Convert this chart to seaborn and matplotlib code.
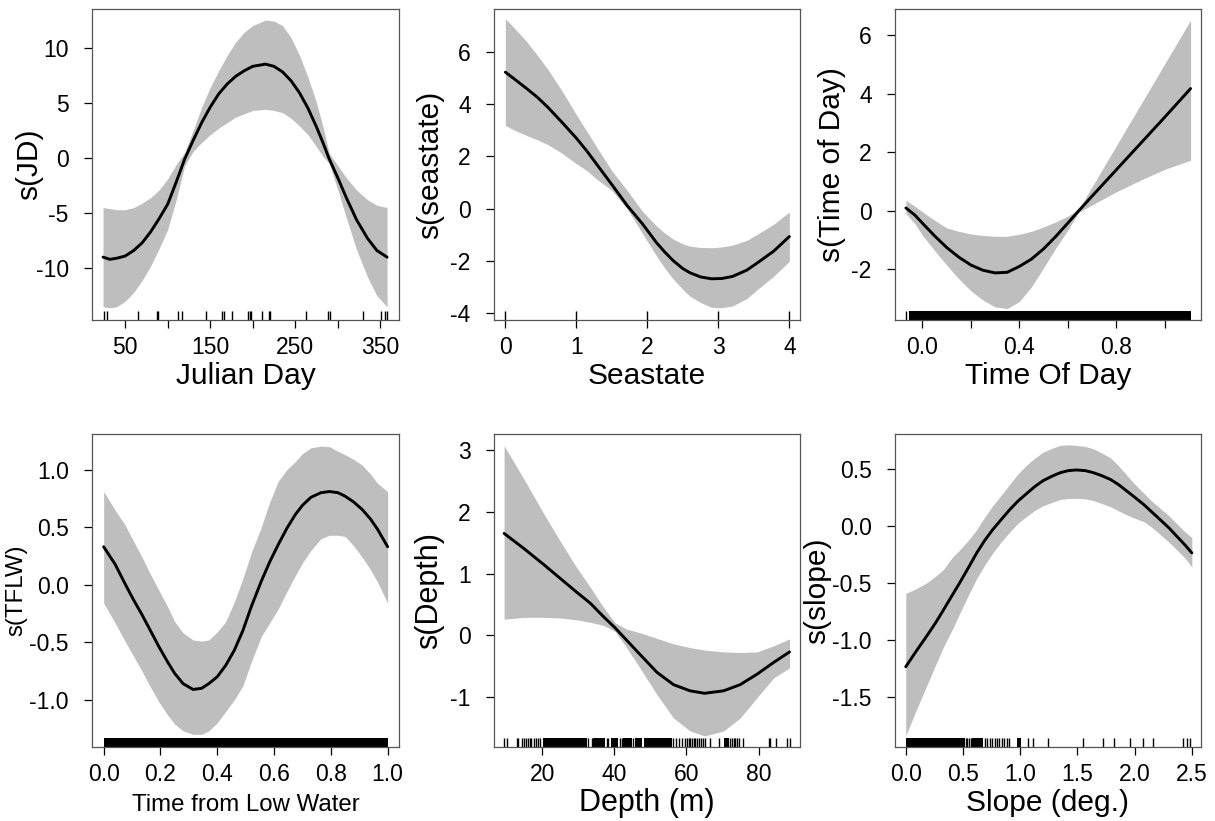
import matplotlib
matplotlib.use('Agg')
import matplotlib.pyplot as plt
import seaborn as sns

# dados (ajustes GAM: curva, limites superior e inferior)
jd_x = [24, 32, 40, 50, 60, 70, 80, 90, 100, 110, 120, 130, 140, 150, 160, 170, 180, 190, 200, 215,
        225, 235, 245, 255, 265, 275, 283, 290, 300, 310, 322, 335, 346, 358]
jd_fit = [-9.0, -9.2, -9.1, -8.9, -8.4, -7.7, -6.7, -5.5, -4.2, -2.2, -0.1, 1.6, 3.2, 4.6, 5.8, 6.7, 7.4,
          7.9, 8.3, 8.5, 8.3, 7.8, 7.0, 5.9, 4.5, 2.8, 1.3, -0.1, -1.8, -3.6, -5.6, -7.3, -8.4, -9.0]
jd_upper = [-4.5, -4.6, -4.7, -4.7, -4.5, -4.1, -3.6, -2.9, -1.9, -0.6, 0.5, 2.5, 4.6, 6.4, 7.9, 9.3, 10.5,
            11.4, 12.0, 12.5, 12.4, 12.0, 10.9, 9.3, 7.3, 5.0, 2.7, 0.4, -0.7, -1.8, -2.9, -3.8, -4.3, -4.5]
jd_lower = [-13.5, -13.6, -13.5, -13.0, -12.2, -11.1, -9.8, -8.2, -6.5, -3.8, -0.7, 0.6, 1.4, 2.1, 2.7, 3.2,
            3.7, 4.0, 4.3, 4.4, 4.3, 4.1, 3.6, 2.9, 2.1, 1.0, 0.1, -0.5, -2.9, -5.4, -8.3, -10.8, -12.5, -13.5]
jd_rug = [24.6, 28.8, 64.6, 87.3, 89.0, 112.0, 116.7, 144.6, 163.8, 166.0, 175.4, 194.3, 196.6, 198.0,
          210.7, 219.0, 220.0, 262.6, 288.5, 290.8, 329.3, 350.8, 355.5, 357.5]

sea_x = [0, 0.15, 0.3, 0.45, 0.6, 0.8, 1.0, 1.15, 1.3, 1.5, 1.72, 1.93, 2.13, 2.25, 2.37, 2.5, 2.6, 2.75,
         2.9, 3.05, 3.2, 3.4, 3.55, 3.78, 4.0]
sea_fit = [5.23, 4.92, 4.6, 4.27, 3.88, 3.3, 2.7, 2.2, 1.65, 0.92, 0.1, -0.58, -1.31, -1.68, -2.01, -2.3,
           -2.46, -2.62, -2.69, -2.68, -2.6, -2.36, -2.08, -1.63, -1.07]
sea_upper = [7.28, 6.85, 6.4, 5.88, 5.33, 4.5, 3.6, 2.95, 2.3, 1.45, 0.68, -0.1, -0.67, -0.95, -1.18, -1.35,
             -1.44, -1.49, -1.5, -1.47, -1.4, -1.22, -0.98, -0.6, -0.13]
sea_lower = [3.18, 2.98, 2.8, 2.64, 2.45, 2.12, 1.72, 1.45, 1.1, 0.7, -0.03, -0.95, -1.82, -2.3, -2.72, -3.1,
             -3.36, -3.6, -3.78, -3.8, -3.73, -3.45, -3.1, -2.59, -2.02]
sea_rug = [0, 1, 2, 3, 4]

tod_x = [-0.068, -0.03, 0.0, 0.05, 0.1, 0.15, 0.2, 0.25, 0.3, 0.35, 0.4, 0.45, 0.5, 0.55, 0.6, 0.645,
         0.7, 0.8, 0.9, 1.0, 1.107]
tod_fit = [0.1, -0.15, -0.42, -0.85, -1.25, -1.58, -1.85, -2.03, -2.12, -2.1, -1.9, -1.65, -1.3, -0.88,
           -0.42, 0.0, 0.5, 1.4, 2.3, 3.2, 4.18]
tod_upper = [0.36, 0.15, -0.03, -0.32, -0.58, -0.7, -0.79, -0.84, -0.87, -0.87, -0.8, -0.7, -0.55, -0.38,
             -0.18, 0.05, 0.82, 2.22, 3.62, 5.02, 6.52]
tod_lower = [-0.09, -0.45, -0.83, -1.35, -1.85, -2.32, -2.73, -3.05, -3.28, -3.34, -3.1, -2.6, -1.95,
             -1.28, -0.66, -0.05, 0.2, 0.65, 1.05, 1.42, 1.73]
tod_rug = [-0.068]
tod_rug_spans = [(-0.055, 1.107)]

tflw_x = [0.0, 0.04, 0.075, 0.105, 0.135, 0.165, 0.195, 0.225, 0.25, 0.28, 0.315, 0.345, 0.37, 0.4, 0.43,
          0.46, 0.49, 0.52, 0.555, 0.585, 0.615, 0.645, 0.675, 0.7, 0.73, 0.765, 0.795, 0.825, 0.85, 0.88,
          0.91, 0.94, 0.965, 1.0]
tflw_fit = [0.33, 0.18, 0.01, -0.13, -0.26, -0.40, -0.54, -0.67, -0.77, -0.86, -0.91, -0.90, -0.86, -0.80,
            -0.70, -0.57, -0.40, -0.19, 0.03, 0.20, 0.35, 0.49, 0.61, 0.69, 0.76, 0.80, 0.81, 0.80, 0.77,
            0.72, 0.655, 0.57, 0.48, 0.33]
tflw_upper = [0.81, 0.65, 0.52, 0.38, 0.24, 0.09, -0.05, -0.19, -0.32, -0.42, -0.48, -0.49, -0.48, -0.41,
              -0.32, -0.15, 0.05, 0.28, 0.5, 0.72, 0.9, 1.0, 1.07, 1.14, 1.19, 1.205, 1.2, 1.16, 1.13,
              1.09, 1.04, 0.96, 0.88, 0.81]
tflw_lower = [-0.16, -0.33, -0.49, -0.62, -0.75, -0.89, -1.02, -1.13, -1.21, -1.27, -1.30, -1.30, -1.27,
              -1.20, -1.10, -1.00, -0.88, -0.67, -0.45, -0.33, -0.21, -0.06, 0.08, 0.19, 0.30, 0.40, 0.43,
              0.43, 0.42, 0.34, 0.24, 0.13, 0.02, -0.16]
tflw_rug_spans = [(0.0, 1.0)]

depth_x = [9.4, 15, 20.3, 25, 29.5, 33.3, 37, 40.2, 43.4, 47.1, 51.8, 56.4, 61, 65, 70.3, 74.9, 79.6,
           84.2, 88.6]
depth_fit = [1.65, 1.4, 1.15, 0.92, 0.7, 0.52, 0.3, 0.12, -0.08, -0.31, -0.6, -0.8, -0.9, -0.94, -0.9,
             -0.8, -0.63, -0.44, -0.27]
depth_upper = [3.07, 2.52, 1.98, 1.52, 1.1, 0.78, 0.45, 0.2, 0.1, 0.04, -0.05, -0.14, -0.2, -0.24, -0.27,
               -0.28, -0.27, -0.17, -0.06]
depth_lower = [0.26, 0.29, 0.29, 0.28, 0.25, 0.21, 0.16, 0.06, -0.2, -0.53, -0.96, -1.34, -1.55, -1.63,
               -1.55, -1.34, -1.01, -0.69, -0.53]
depth_rug = [9.4, 10.1, 12.9, 13.3, 14.3, 15.0, 15.6, 16.1, 16.6, 17.0, 17.7, 18.3, 18.9, 19.4, 32.8, 33.7,
             37.9, 38.3, 41.6, 42.05, 45.3, 56.4, 57.1, 57.8, 58.7, 59.6, 60.1, 60.6, 61.0, 61.5, 62.0, 62.5,
             63.0, 63.5, 64.0, 64.6, 65.2, 66.4, 68.9, 72.1, 72.6, 73.1, 73.5, 74.0, 74.5, 75.8, 82.8, 83.3,
             84.9, 87.9, 88.6]
depth_rug_spans = [(20.3, 32.3), (34.2, 37.4), (39.0, 41.1), (42.5, 44.8), (45.8, 47.6), (48.1, 55.9),
                   (70.3, 71.7)]

slope_x = [0, 0.09, 0.18, 0.26, 0.33, 0.41, 0.47, 0.55, 0.62, 0.69, 0.76, 0.84, 0.91, 0.98, 1.06, 1.13,
           1.2, 1.28, 1.35, 1.42, 1.49, 1.57, 1.64, 1.71, 1.79, 1.86, 1.93, 2.0, 2.08, 2.15, 2.22, 2.3,
           2.37, 2.44, 2.5]
slope_fit = [-1.235, -1.1, -0.97, -0.85, -0.735, -0.6, -0.5, -0.36, -0.235, -0.125, -0.03, 0.065, 0.147,
             0.22, 0.29, 0.35, 0.4, 0.44, 0.47, 0.488, 0.494, 0.488, 0.47, 0.445, 0.41, 0.365, 0.31, 0.255,
             0.19, 0.125, 0.06, -0.015, -0.09, -0.165, -0.235]
slope_upper = [-0.59, -0.55, -0.5, -0.44, -0.38, -0.27, -0.21, -0.12, -0.03, 0.08, 0.18, 0.28, 0.37, 0.46,
               0.54, 0.6, 0.65, 0.685, 0.71, 0.715, 0.71, 0.7, 0.68, 0.645, 0.6, 0.53, 0.45, 0.37, 0.29,
               0.22, 0.16, 0.09, 0.02, -0.05, -0.1]
slope_lower = [-1.84, -1.62, -1.41, -1.22, -1.06, -0.9, -0.77, -0.6, -0.46, -0.34, -0.235, -0.13, -0.05,
               0.025, 0.09, 0.14, 0.18, 0.21, 0.235, 0.243, 0.245, 0.24, 0.225, 0.2, 0.17, 0.135, 0.1,
               0.07, 0.04, -0.01, -0.07, -0.14, -0.21, -0.28, -0.36]
slope_rug = [0.525, 0.537, 0.551, 0.572, 0.691, 0.712, 0.735, 0.758, 0.779, 0.799, 0.817, 0.837, 0.861, 0.881,
             0.901, 1.071, 1.114, 1.246, 1.546, 1.721, 1.823, 1.96, 2.077, 2.159, 2.427, 2.456, 2.485]
slope_rug_spans = [(0.0, 0.516), (0.583, 0.677), (0.968, 1.003)]

sns.set_style('ticks')
plt.rcParams['font.family'] = ['Liberation Sans', 'DejaVu Sans']

fig = plt.figure(figsize=(12.15, 8.21), dpi=100)

W, H = 1215, 821
# posição das caixas em pixels: esquerda, topo, direita, base
caixas = [(92, 9, 399, 320), (494, 9, 800, 320), (895, 9, 1201, 320),
          (92, 434, 399, 747), (494, 434, 800, 747), (895, 434, 1201, 747)]

paineis = [
    dict(x=jd_x, fit=jd_fit, up=jd_upper, lo=jd_lower, rug=jd_rug, spans=[],
         xlim=(11, 372), ylim=(-14.7, 13.5), xticks=[50, 100, 150, 200, 250, 300, 350],
         xlabels=['50', '', '150', '', '250', '', '350'], yticks=[-10, -5, 0, 5, 10],
         yticklabels=['-10', '-5', '0', '5', '10'], xlab='Julian Day', ylab='s(JD)', fs=21.5, ylpos=63),
    dict(x=sea_x, fit=sea_fit, up=sea_upper, lo=sea_lower, rug=sea_rug, spans=[],
         xlim=(-0.16, 4.15), ylim=(-4.27, 7.65), xticks=[0, 1, 2, 3, 4],
         xlabels=['0', '1', '2', '3', '4'], yticks=[-4, -2, 0, 2, 4, 6],
         yticklabels=['-4', '-2', '0', '2', '4', '6'], xlab='Seastate', ylab='s(seastate)', fs=21.5, ylpos=64),
    dict(x=tod_x, fit=tod_fit, up=tod_upper, lo=tod_lower, rug=tod_rug, spans=tod_rug_spans,
         xlim=(-0.113, 1.15), ylim=(-3.73, 6.9), xticks=[0.0, 0.2, 0.4, 0.6, 0.8, 1.0],
         xlabels=['0.0', '', '0.4', '', '0.8', ''], yticks=[-2, 0, 2, 4, 6],
         yticklabels=['-2', '0', '2', '4', '6'], xlab='Time Of Day', ylab='s(Time of Day)', fs=21.5, ylpos=63),
    dict(x=tflw_x, fit=tflw_fit, up=tflw_upper, lo=tflw_lower, rug=[], spans=tflw_rug_spans,
         xlim=(-0.041, 1.04), ylim=(-1.41, 1.31), xticks=[0.0, 0.2, 0.4, 0.6, 0.8, 1.0],
         xlabels=['0.0', '0.2', '0.4', '0.6', '0.8', '1.0'], yticks=[-1.0, -0.5, 0.0, 0.5, 1.0],
         yticklabels=['-1.0', '-0.5', '0.0', '0.5', '1.0'], xlab='Time from Low Water', ylab='s(TFLW)',
         fs=17.3, ylpos=76),
    dict(x=depth_x, fit=depth_fit, up=depth_upper, lo=depth_lower, rug=depth_rug, spans=depth_rug_spans,
         xlim=(6.6, 91.5), ylim=(-1.81, 3.26), xticks=[20, 40, 60, 80],
         xlabels=['20', '40', '60', '80'], yticks=[-1, 0, 1, 2, 3],
         yticklabels=['-1', '0', '1', '2', '3'], xlab='Depth (m)', ylab='s(Depth)', fs=22, ylpos=65),
    dict(x=slope_x, fit=slope_fit, up=slope_upper, lo=slope_lower, rug=slope_rug, spans=slope_rug_spans,
         xlim=(-0.094, 2.58), ylim=(-1.94, 0.81), xticks=[0.0, 0.5, 1.0, 1.5, 2.0, 2.5],
         xlabels=['0.0', '0.5', '1.0', '1.5', '2.0', '2.5'], yticks=[-1.5, -1.0, -0.5, 0.0, 0.5],
         yticklabels=['-1.5', '-1.0', '-0.5', '0.0', '0.5'], xlab='Slope (deg.)', ylab='s(slope)', fs=21.5,
         ylpos=78),
]

for (l, t, r, b), p in zip(caixas, paineis):
    ax = fig.add_axes([l / W, 1 - b / H, (r - l) / W, (b - t) / H])
    ax.fill_between(p['x'], p['lo'], p['up'], color='#BEBEBE', lw=0)
    sns.lineplot(x=p['x'], y=p['fit'], ax=ax, color='black', lw=2.1)
    # rug
    if p['rug']:
        sns.rugplot(x=p['rug'], ax=ax, height=0.03, color='black', lw=1.1, expand_margins=False)
    for x0, x1 in p['spans']:
        ax.axvspan(x0, x1, ymin=0, ymax=0.03, color='black', lw=0)
    ax.set_xlim(*p['xlim'])
    ax.set_ylim(*p['ylim'])
    ax.set_xticks(p['xticks'])
    ax.set_xticklabels(p['xlabels'])
    ax.set_yticks(p['yticks'])
    ax.set_yticklabels(p['yticklabels'])
    ax.tick_params(axis='both', direction='out', length=5.8, width=0.9, color='black',
                   labelsize=16.5, labelcolor='black')
    ax.tick_params(axis='x', pad=6)
    ax.tick_params(axis='y', pad=11)
    for s in ax.spines.values():
        s.set_visible(True)
        s.set_color('#555555')
        s.set_linewidth(0.9)
    ax.set_xlabel(p['xlab'], fontsize=p['fs'], color='black')
    ax.set_ylabel(p['ylab'], fontsize=p['fs'], color='black')
    ax.xaxis.label.set_va('baseline')
    ax.xaxis.set_label_coords(0.5, -64 / (b - t))
    ax.yaxis.label.set_va('center')
    ax.yaxis.set_label_coords(-p['ylpos'] / (r - l), 0.5)

fig.savefig('out.png', dpi=100, facecolor='white')
